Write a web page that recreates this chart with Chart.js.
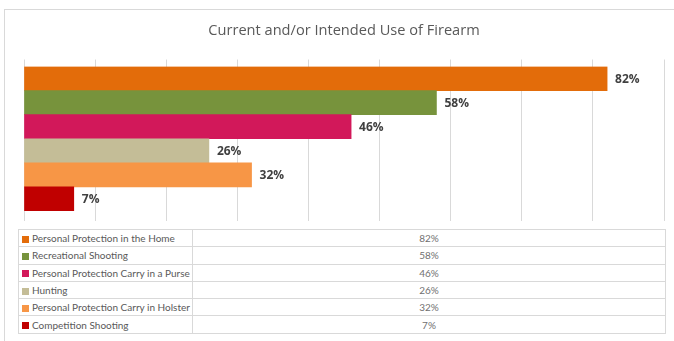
<!DOCTYPE html>
<html>
<head>
<meta charset="utf-8">
<script src="https://cdn.jsdelivr.net/npm/chart.js@4"></script>
<style>
  html, body { margin: 0; padding: 0; background: #fff; }
  body { width: 674px; height: 341px; position: relative; overflow: hidden; font-family: Lato, "Open Sans", sans-serif; }
  #frame { position: absolute; left: 4px; top: 9px; width: 700px; height: 360px; border: 1px solid #d9d9d9; box-sizing: border-box; }
  #chart-wrap { position: absolute; left: 0; top: 0; width: 674px; height: 226px; }
  #data-table { position: absolute; left: 18px; top: 229px; width: 648px; border-collapse: collapse; font-size: 10px; color: #595959; }
  #data-table td { border: 1px solid #d9d9d9; height: 16.3px; padding: 0 0 0 3px; white-space: nowrap; }
  #data-table td.val { text-align: center; padding: 0; color: #707070; }
  .sw { display: inline-block; width: 7px; height: 7px; margin-right: 3px; vertical-align: -0.5px; }
</style>
</head>
<body>
<div id="frame"></div>
<div id="chart-wrap"><canvas id="chart"></canvas></div>
<table id="data-table"><tbody id="table-body"></tbody></table>
<script>
// ── Data ───────────────────────────────────────────────
const categories = [
  'Personal Protection in the Home',
  'Recreational Shooting',
  'Personal Protection Carry in a Purse',
  'Hunting',
  'Personal Protection Carry in Holster',
  'Competition Shooting',
];
const values = [82, 58, 46, 26, 32, 7];
const barColors = ['#e36c0a', '#77933c', '#d2185a', '#c4bd97', '#f79646', '#c00000'];
const chartTitle = 'Current and/or Intended Use of Firearm';

// ── Bar-end labels ─────────────────────────────────────
const barLabels = {
  id: 'barLabels',
  afterDatasetsDraw(chart) {
    const ctx = chart.ctx;
    const meta = chart.getDatasetMeta(0);
    ctx.save();
    ctx.font = 'bold 12px "Open Sans", sans-serif';
    ctx.fillStyle = '#404040';
    ctx.textBaseline = 'middle';
    meta.data.forEach((bar, i) => {
      ctx.fillText(values[i] + '%', bar.x + 8, bar.y + 1);
    });
    ctx.restore();
  },
};

// ── Chart ──────────────────────────────────────────────
new Chart(document.getElementById('chart'), {
  type: 'bar',
  data: {
    labels: categories,
    datasets: [{
      data: values,
      backgroundColor: barColors,
      borderWidth: 0,
      barPercentage: 1,
      categoryPercentage: 1,
    }],
  },
  plugins: [barLabels],
  options: {
    indexAxis: 'y',
    responsive: true,
    maintainAspectRatio: false,
    animation: false,
    layout: { padding: { left: 24, right: 10, top: 0, bottom: 5 } },
    plugins: {
      legend: { display: false },
      tooltip: { enabled: false },
      title: {
        display: true,
        text: chartTitle,
        color: '#595959',
        font: { family: '"Open Sans", sans-serif', size: 14.6, weight: 'normal' },
        padding: { top: 22, bottom: 20 },
      },
    },
    scales: {
      x: {
        min: 0, max: 90,
        ticks: { display: false, stepSize: 10 },
        grid: { color: '#d9d9d9', tickLength: 10, drawTicks: true },
        border: { display: false },
      },
      x2: {
        position: 'top',
        min: 0, max: 90,
        ticks: { display: false, stepSize: 10 },
        grid: { color: '#d9d9d9', tickLength: 7, drawOnChartArea: false },
        border: { display: false },
      },
      y: { display: false },
    },
  },
});

// ── Data table ─────────────────────────────────────────
const tbody = document.getElementById('table-body');
tbody.innerHTML = categories.map((c, i) => `
  <tr>
    <td style="width:170px"><span class="sw" style="background:${barColors[i]}"></span>${c}</td>
    <td class="val">${values[i]}%</td>
  </tr>
`).join('');
</script>
</body>
</html>
